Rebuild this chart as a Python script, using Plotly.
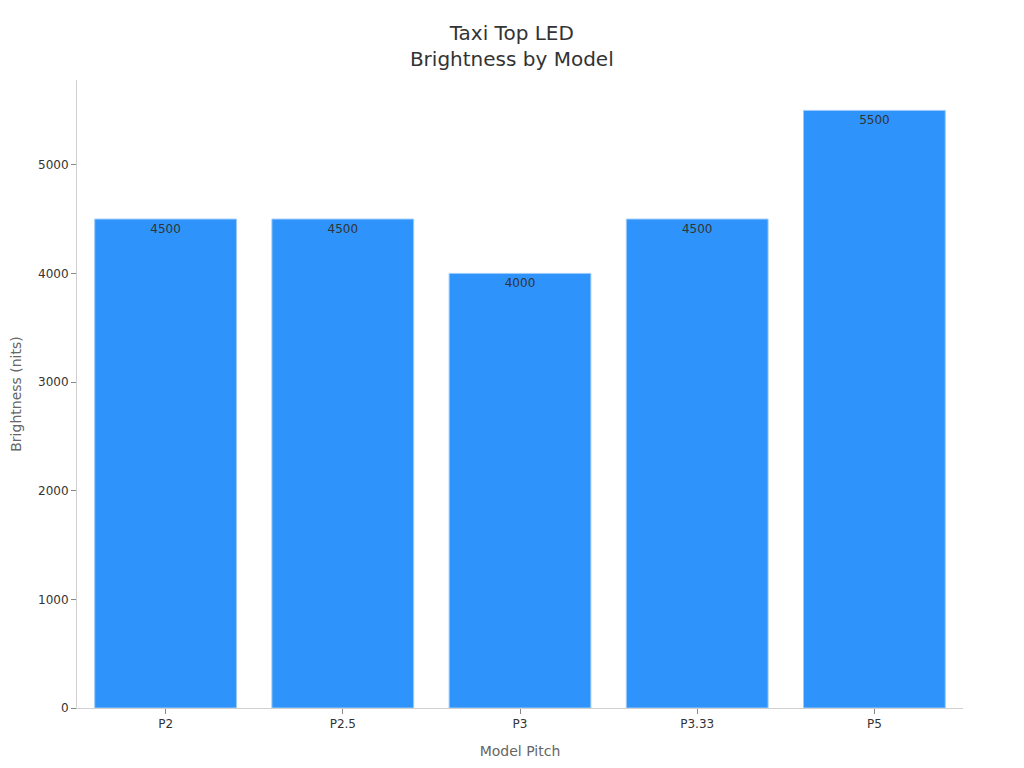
import plotly.graph_objects as go

# Dados
modelos = ['P2', 'P2.5', 'P3', 'P3.33', 'P5']
brilho = [4500, 4500, 4000, 4500, 5500]

fig = go.Figure()
fig.add_trace(go.Bar(
    x=modelos, y=brilho,
    text=[str(v) for v in brilho],
    textposition='inside', insidetextanchor='end', textangle=0,
    textfont=dict(color='#333333', size=12),
    marker=dict(color='#2e93fa', line=dict(color='#9ccbfb', width=1)),
))

fig.update_layout(
    width=1024, height=768,
    font=dict(family='DejaVu Sans', color='#333333'),
    title=dict(text='Taxi Top LED<br>Brightness by Model', x=0.492, xanchor='center',
               y=0.958, yanchor='top', font=dict(size=20, color='#333333')),
    paper_bgcolor='white', plot_bgcolor='white',
    margin=dict(l=69, r=69, t=72, b=68),
    bargap=0.2,
    showlegend=False,
)
fig.update_xaxes(
    title=dict(text='Model Pitch', font=dict(size=14, color='#666666')),
    showline=True, linecolor='#d0d0d0', ticks='outside', tickcolor='#888888',
    ticklen=5, tickfont=dict(size=12, color='#333333'), showgrid=False,
    automargin=False,
)
fig.update_yaxes(
    title=dict(text='Brightness (nits)', font=dict(size=14, color='#666666')),
    range=[0, 5780], showline=True, linecolor='#d0d0d0', ticks='outside',
    tickcolor='#888888', ticklen=5, tickfont=dict(size=12, color='#333333'),
    showgrid=False, zeroline=False, dtick=1000, automargin=False,
)

fig.write_html('out.html')
